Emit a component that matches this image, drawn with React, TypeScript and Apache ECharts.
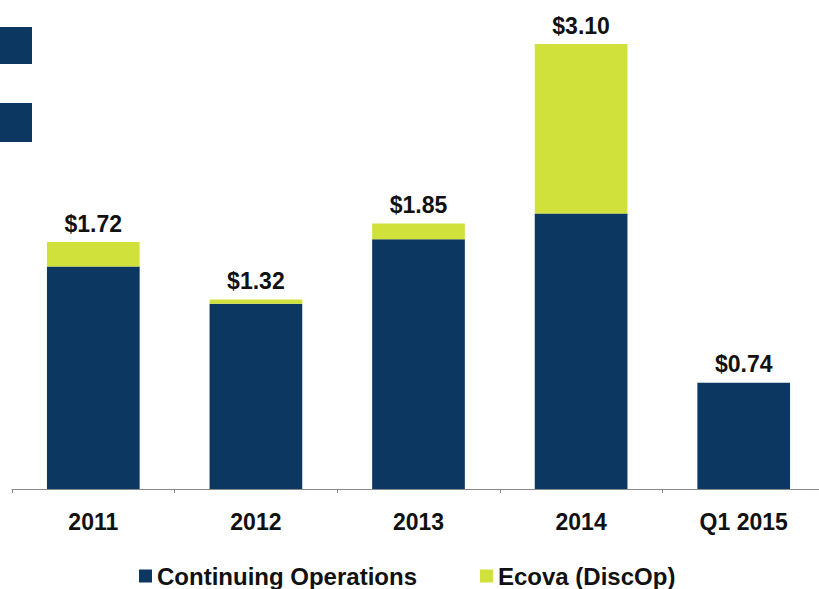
import React, { useEffect, useRef } from "react";
import * as echarts from "echarts";

const categories = ["2011", "2012", "2013", "2014", "Q1 2015"];
const continuingOps = [1.55, 1.29, 1.74, 1.92, 0.74];
const ecovaDiscOp = [0.17, 0.03, 0.11, 1.18, 0];
const totalLabels = ["$1.72", "$1.32", "$1.85", "$3.10", "$0.74"];

const NAVY = "#0b3760";
const LIME = "#cfe13a";
const FONT = "'Liberation Sans', Arial, sans-serif";

export default function App() {
  const ref = useRef<HTMLDivElement>(null);
  useEffect(() => {
    if (!ref.current) return;
    const chart = echarts.init(ref.current, null, { renderer: "svg" });
    chart.setOption({
      animation: false,
      backgroundColor: "#ffffff",
      textStyle: { fontFamily: FONT },
      grid: { left: 12, width: 813, top: 44, bottom: 100, outerBoundsMode: "none" },
      legend: {
        left: 134,
        top: 559,
        icon: "rect",
        itemWidth: 13,
        itemHeight: 13,
        itemGap: 63,
        textStyle: { fontFamily: FONT, fontSize: 24, fontWeight: "bold", color: "#111", lineHeight: 24 },
        data: ["Continuing Operations", "Ecova (DiscOp)"],
      },
      xAxis: {
        type: "category",
        data: categories,
        boundaryGap: true,
        axisLine: { show: true, lineStyle: { color: "#8a8a8a", width: 1 } },
        axisTick: { show: true, length: 4, lineStyle: { color: "#8a8a8a" } },
        axisLabel: {
          margin: 21,
          fontFamily: FONT,
          fontSize: 23,
          fontWeight: "bold",
          color: "#111",
          lineHeight: 24,
        },
      },
      yAxis: {
        type: "value",
        min: 0,
        max: 3.1,
        show: false,
        splitLine: { show: false },
      },
      graphic: [
        { type: "rect", left: 0, top: 27, shape: { width: 32, height: 37 }, style: { fill: NAVY } },
        { type: "rect", left: 0, top: 103, shape: { width: 32, height: 39 }, style: { fill: NAVY } },
      ],
      series: [
        {
          name: "Continuing Operations",
          type: "bar",
          stack: "eps",
          barWidth: "57%",
          itemStyle: { color: NAVY },
          data: continuingOps,
        },
        {
          name: "Ecova (DiscOp)",
          type: "bar",
          stack: "eps",
          barWidth: "57%",
          itemStyle: { color: LIME },
          data: ecovaDiscOp,
          label: {
            show: true,
            position: "top",
            distance: 7,
            fontFamily: FONT,
            fontSize: 23,
            fontWeight: "bold",
            color: "#111",
            formatter: (p: any) => totalLabels[p.dataIndex],
          },
        },
      ],
    });
    return () => chart.dispose();
  }, []);
  return <div ref={ref} style={{ width: 819, height: 589, position: "absolute", left: 0, top: 0 }} />;
}
